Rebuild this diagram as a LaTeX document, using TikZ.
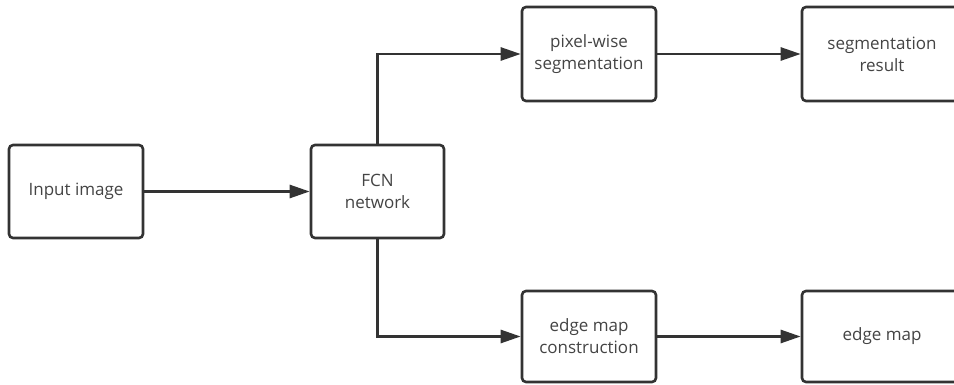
\documentclass[tikz,border=0pt]{standalone}
\usepackage{fontspec}
\setmainfont{Open Sans}
\usetikzlibrary{arrows.meta}
\definecolor{ln}{HTML}{333333}
\definecolor{tx}{HTML}{444444}
\begin{document}
\begin{tikzpicture}[x=1pt,y=-1pt,
  box/.style={draw=ln,line width=2.6pt,rounded corners=4pt,fill=white,
    inner sep=0pt,align=center,text=tx,font=\fontsize{17}{22}\selectfont},
  conn/.style={draw=ln,line width=2.6pt,-{Triangle[length=20pt,width=13pt]}}]
\useasboundingbox (0,0) rectangle (954,385);
\begin{scope}
\clip (0,0) rectangle (954,385);
\node[box,minimum width=134pt,minimum height=93pt] (in) at (76,191.5) {Input image};
\node[box,minimum width=133pt,minimum height=93pt] (fcn) at (377.5,191.5) {FCN\\network};
\node[box,minimum width=134pt,minimum height=94pt] (pix) at (589,54) {pixel-wise\\segmentation};
\node[box,minimum width=160pt,minimum height=94pt] (seg) at (882,54) {segmentation\\result};
\node[box,minimum width=134pt,minimum height=91pt] (emc) at (589,336.5) {edge map\\construction};
\node[box,minimum width=160pt,minimum height=91pt] (em) at (882,336.5) {edge map};
\end{scope}
\draw[conn] (in.east) -- (fcn.west);
\draw[conn] (fcn.north) |- (pix.west);
\draw[conn] (fcn.south) |- (emc.west);
\draw[conn] (pix.east) -- (seg.west);
\draw[conn] (emc.east) -- (em.west);
\end{tikzpicture}
\end{document}
